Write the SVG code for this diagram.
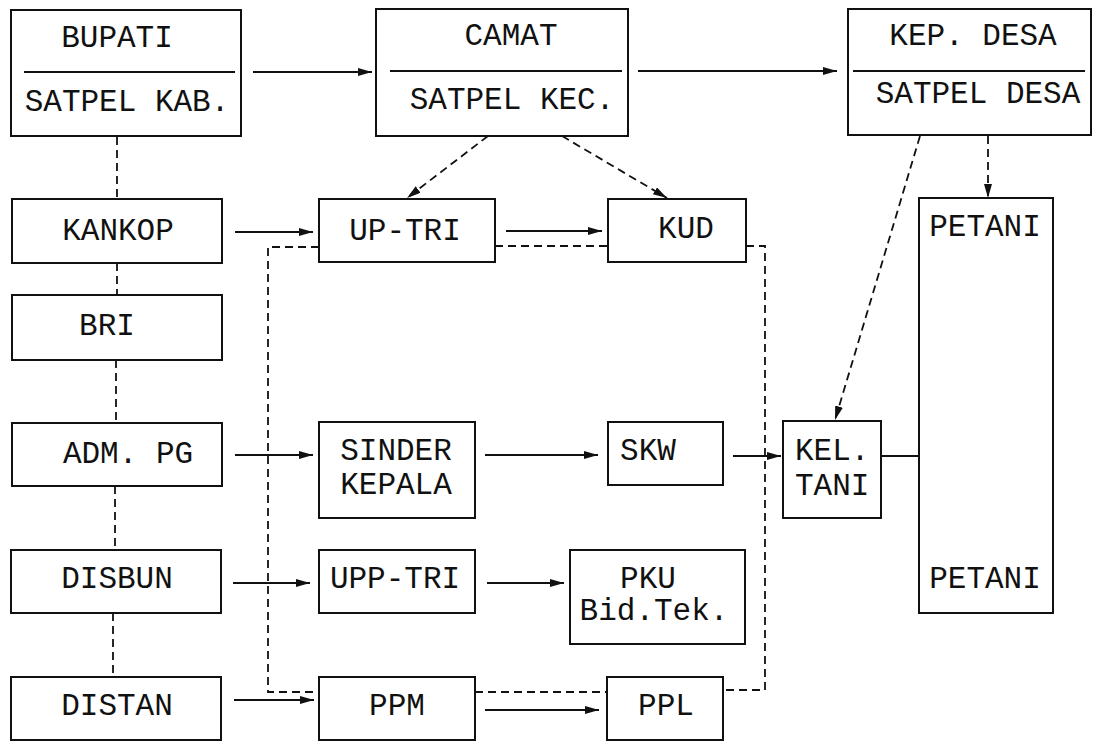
<svg xmlns="http://www.w3.org/2000/svg" width="1096" height="753" viewBox="0 0 1096 753">
<style>
.box{fill:#fff;stroke:#111;stroke-width:2}
.t{font-family:"Liberation Mono","Courier New",monospace;font-size:31px;fill:#111;text-anchor:middle}
.tl{font-family:"Liberation Mono","Courier New",monospace;font-size:31px;fill:#111}
.sol{fill:none;stroke:#111;stroke-width:1.8}
.dash{fill:none;stroke:#111;stroke-width:1.8;stroke-dasharray:8 5}
.arr{marker-end:url(#ah)}
</style>
<defs>
<marker id="ah" markerUnits="userSpaceOnUse" markerWidth="16" markerHeight="10" refX="14" refY="4" orient="auto">
<path d="M0,0 L14,4 L0,8 Z" fill="#111"/>
</marker>
</defs>
<rect width="1096" height="753" fill="#fff"/>
<g id="connectors">
<line class="sol arr" x1="253" y1="72" x2="372" y2="72"/>
<line class="sol arr" x1="638" y1="71" x2="837" y2="71"/>
<line class="dash" x1="117" y1="137" x2="117" y2="199"/>
<line class="dash" x1="117" y1="263" x2="117" y2="295"/>
<line class="dash" x1="116" y1="360" x2="116" y2="423"/>
<line class="dash" x1="115" y1="486" x2="115" y2="550"/>
<line class="dash" x1="113" y1="613" x2="113" y2="677"/>
<line class="dash arr" x1="488" y1="136" x2="407" y2="198"/>
<line class="dash arr" x1="562" y1="136" x2="667" y2="198"/>
<line class="dash arr" x1="920" y1="136" x2="835" y2="420"/>
<line class="dash arr" x1="988" y1="136" x2="988" y2="198"/>
<line class="sol arr" x1="235" y1="232" x2="313" y2="232"/>
<line class="sol arr" x1="506" y1="231" x2="602" y2="231"/>
<line class="sol arr" x1="235" y1="455" x2="313" y2="455"/>
<line class="sol arr" x1="485" y1="455" x2="598" y2="455"/>
<line class="sol arr" x1="733" y1="456" x2="781" y2="456"/>
<line class="sol" x1="881" y1="456" x2="919" y2="456"/>
<line class="sol arr" x1="233" y1="583" x2="310" y2="583"/>
<line class="sol arr" x1="487" y1="583" x2="564" y2="583"/>
<line class="sol arr" x1="234" y1="700" x2="314" y2="700"/>
<line class="sol arr" x1="485" y1="710" x2="599" y2="710"/>
<polyline class="dash" points="319,247 268,247 268,692 319,692"/>
<line class="dash" x1="495" y1="246" x2="608" y2="246"/>
<line class="dash" x1="475" y1="692" x2="607" y2="692"/>
<polyline class="dash" points="746,246 765,246 765,690 723,690"/>
</g>
<g id="bupati">
<rect class="box" x="11" y="10" width="230" height="126"/>
<line class="sol" x1="24" y1="72" x2="235" y2="72"/>
<text class="t" x="117" y="47">BUPATI</text>
<text class="t" x="127" y="111">SATPEL KAB.</text>
</g>
<g id="camat">
<rect class="box" x="376" y="9" width="252" height="127"/>
<line class="sol" x1="390" y1="71" x2="622" y2="71"/>
<text class="t" x="511" y="45">CAMAT</text>
<text class="t" x="512" y="109">SATPEL KEC.</text>
</g>
<g id="kepdesa">
<rect class="box" x="848" y="9" width="243" height="126"/>
<line class="sol" x1="853" y1="71" x2="1085" y2="71"/>
<text class="t" x="973" y="45">KEP. DESA</text>
<text class="t" x="978" y="103">SATPEL DESA</text>
</g>
<g id="kankop">
<rect class="box" x="12" y="199" width="210" height="64"/>
<text class="t" x="118" y="240">KANKOP</text>
</g>
<g id="bri">
<rect class="box" x="12" y="295" width="210" height="65"/>
<text class="t" x="107" y="335">BRI</text>
</g>
<g id="admpg">
<rect class="box" x="12" y="423" width="210" height="63"/>
<text class="t" x="128" y="463">ADM. PG</text>
</g>
<g id="disbun">
<rect class="box" x="11" y="550" width="210" height="63"/>
<text class="t" x="117" y="588">DISBUN</text>
</g>
<g id="distan">
<rect class="box" x="11" y="677" width="210" height="63"/>
<text class="t" x="117" y="715">DISTAN</text>
</g>
<g id="uptri">
<rect class="box" x="319" y="199" width="176" height="63"/>
<text class="t" x="405" y="240">UP-TRI</text>
</g>
<g id="kud">
<rect class="box" x="608" y="199" width="138" height="63"/>
<text class="t" x="686" y="238">KUD</text>
</g>
<g id="sinder">
<rect class="box" x="319" y="422" width="156" height="96"/>
<text class="t" x="396" y="460">SINDER</text>
<text class="t" x="396" y="494">KEPALA</text>
</g>
<g id="skw">
<rect class="box" x="608" y="422" width="115" height="63"/>
<text class="t" x="648" y="460">SKW</text>
</g>
<g id="keltani">
<rect class="box" x="783" y="421" width="98" height="97"/>
<text class="tl" x="795" y="460">KEL.</text>
<text class="tl" x="795" y="495">TANI</text>
</g>
<g id="petani">
<rect class="box" x="919" y="198" width="134" height="415"/>
<text class="t" x="985" y="236">PETANI</text>
<text class="t" x="985" y="588">PETANI</text>
</g>
<g id="upptri">
<rect class="box" x="319" y="550" width="156" height="63"/>
<text class="t" x="395" y="588">UPP-TRI</text>
</g>
<g id="pku">
<rect class="box" x="570" y="550" width="175" height="94"/>
<text class="t" x="648" y="588">PKU</text>
<text class="t" x="654" y="620">Bid.Tek.</text>
</g>
<g id="ppm">
<rect class="box" x="319" y="677" width="156" height="63"/>
<text class="t" x="397" y="715">PPM</text>
</g>
<g id="ppl">
<rect class="box" x="607" y="677" width="116" height="63"/>
<text class="t" x="666" y="715">PPL</text>
</g>
</svg>
